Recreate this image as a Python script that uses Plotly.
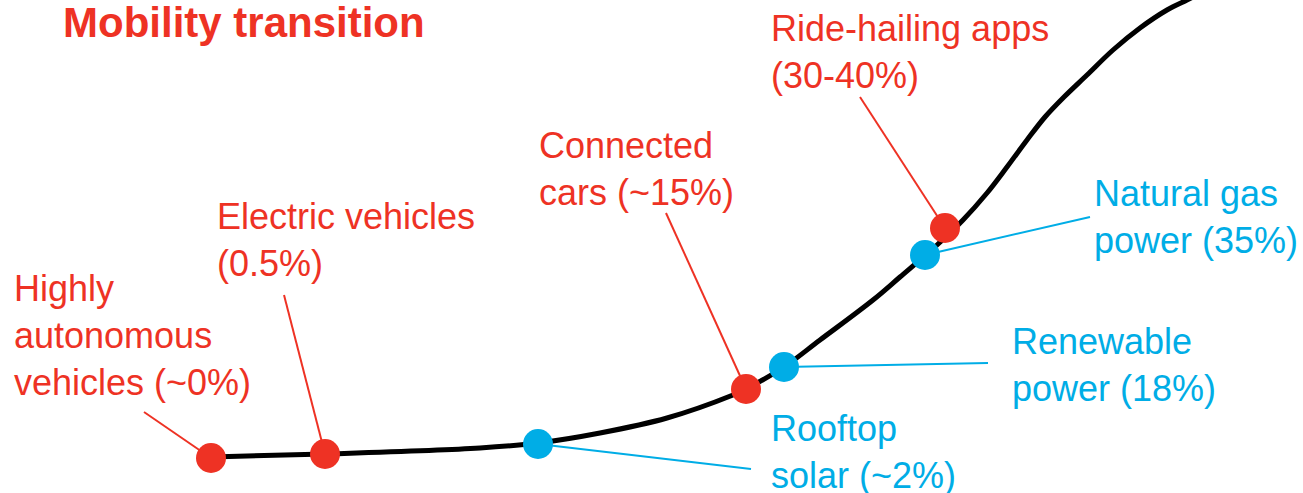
import plotly.graph_objects as go

# ---- data (in chart units: x = time, y = position from top) ----
curve_x = [211, 325, 480, 538, 600, 667, 733, 746, 784, 820, 873, 900, 937, 963, 987, 1007, 1027, 1045,
           1064, 1087, 1113, 1140, 1167, 1187, 1197]
curve_y = [457, 454, 448, 443, 433, 418, 395, 389, 367, 340, 300, 277, 245, 220, 193, 167, 140, 117,
           97, 75, 50, 28, 10, 0, -5]

mobility_names = ["Highly autonomous vehicles (~0%)", "Electric vehicles (0.5%)",
                  "Connected cars (~15%)", "Ride-hailing apps (30-40%)"]
mobility_x = [211, 325, 746, 945]
mobility_y = [458, 454, 389, 228]

energy_names = ["Rooftop solar (~2%)", "Renewable power (18%)", "Natural gas power (35%)"]
energy_x = [538, 784, 925]
energy_y = [444, 367, 255]

mobility_labels = ["Highly<br>autonomous<br>vehicles (~0%)", "Electric vehicles<br>(0.5%)",
                   "Connected<br>cars (~15%)", "Ride-hailing apps<br>(30-40%)"]
energy_labels = ["Rooftop<br>solar (~2%)", "Renewable<br>power (18%)", "Natural gas<br>power (35%)"]

title_text = "Mobility transition"

# ---- layout positions (label left x, first baseline y; leader line label ends) ----
mob_label_pos = [(12, 300), (215, 228), (537, 157), (769, 40)]
mob_leader_end = [(144, 412), (284, 295), (666, 213), (860, 97)]
en_label_pos = [(769, 440), (1010, 353), (1092, 205)]
en_leader_end = [(751, 469), (988, 363), (1090, 217)]

RED = "#EE3224"
BLUE = "#00ADE6"
FONT = "Liberation Sans, Arial, sans-serif"
LABEL_SIZE = 36
TITLE_SIZE = 42

fig = go.Figure()

shapes = []
for (lx, ly), px, py in zip(mob_leader_end, mobility_x, mobility_y):
    shapes.append(dict(type="line", xref="x", yref="y", x0=lx, y0=ly, x1=px, y1=py,
                       line=dict(color=RED, width=2), layer="below"))
for (lx, ly), px, py in zip(en_leader_end, energy_x, energy_y):
    shapes.append(dict(type="line", xref="x", yref="y", x0=px, y0=py, x1=lx, y1=ly,
                       line=dict(color=BLUE, width=2), layer="below"))

fig.add_trace(go.Scatter(x=curve_x, y=curve_y, mode="lines",
                         line=dict(color="black", width=5, shape="spline", smoothing=1.0),
                         hoverinfo="skip", showlegend=False))
fig.add_trace(go.Scatter(x=mobility_x, y=mobility_y, mode="markers", text=mobility_names,
                         marker=dict(color=RED, size=30), hoverinfo="text", showlegend=False))
fig.add_trace(go.Scatter(x=energy_x, y=energy_y, mode="markers", text=energy_names,
                         marker=dict(color=BLUE, size=30), hoverinfo="text", showlegend=False))

annotations = []
asc = 0.905 * LABEL_SIZE + 1
for txt, (lx, ly) in zip(mobility_labels, mob_label_pos):
    annotations.append(dict(x=lx, y=ly - asc, xref="x", yref="y", text=txt, showarrow=False,
                            xanchor="left", yanchor="top", align="left",
                            font=dict(family=FONT, size=LABEL_SIZE, color=RED)))
for txt, (lx, ly) in zip(energy_labels, en_label_pos):
    annotations.append(dict(x=lx, y=ly - asc, xref="x", yref="y", text=txt, showarrow=False,
                            xanchor="left", yanchor="top", align="left",
                            font=dict(family=FONT, size=LABEL_SIZE, color=BLUE)))
# title: anchored at its bottom edge (baseline + descent) so the anchor stays inside the range
annotations.append(dict(x=61, y=38 + (0.212 * TITLE_SIZE + 1), xref="x", yref="y",
                        text="<b>" + title_text + "</b>",
                        showarrow=False, xanchor="left", yanchor="bottom", align="left",
                        font=dict(family=FONT, size=TITLE_SIZE, color=RED)))

fig.update_layout(
    width=1303, height=493,
    margin=dict(l=0, r=0, t=0, b=0),
    paper_bgcolor="white", plot_bgcolor="white",
    xaxis=dict(range=[0, 1303], visible=False, fixedrange=True),
    yaxis=dict(range=[493, 0], visible=False, fixedrange=True),
    shapes=shapes, annotations=annotations, showlegend=False,
)

fig.write_html("out.html", config={"displayModeBar": False},
               post_script="document.body.style.margin='0';document.body.style.overflow='hidden';")
